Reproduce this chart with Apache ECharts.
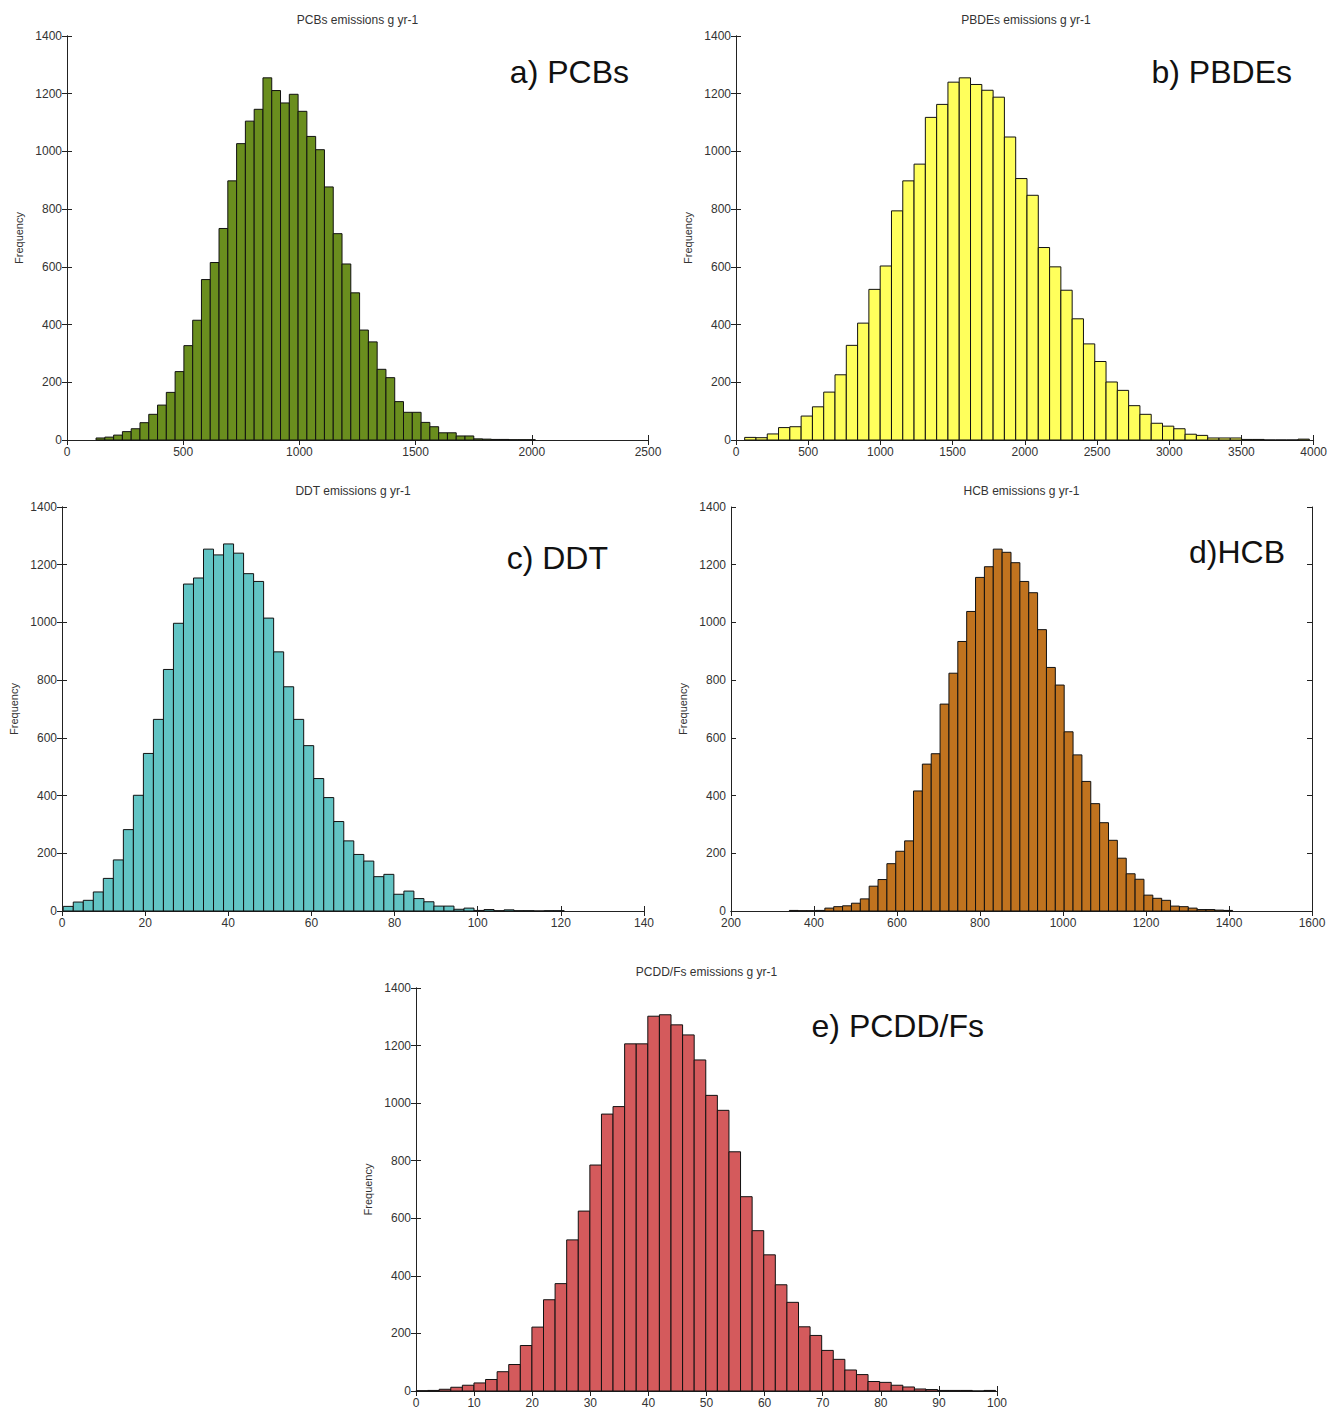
<!DOCTYPE html>
<html>
<head>
<meta charset="utf-8">
<title>Emission histograms</title>
<script src="https://cdn.jsdelivr.net/npm/echarts@6/dist/echarts.min.js"></script>
<style>
  html, body { margin: 0; padding: 0; background: #fff; }
  #chart { width: 1330px; height: 1409px; }
</style>
</head>
<body>
<div id="chart"></div>
<script>
// counts per bin, 50 bins each
const pcbsCounts = [7, 10, 17, 29, 39, 60, 89, 121, 165, 237, 327, 415, 556, 615, 733, 898, 1027, 1105, 1146, 1255,
  1211, 1168, 1198, 1139, 1052, 1006, 877, 715, 610, 510, 381, 340, 245, 216, 133, 96, 96, 61, 46, 25,
  25, 14, 14, 4, 3, 2, 2, 1, 1, 1];
const pbdesCounts = [9, 8, 21, 43, 46, 83, 115, 166, 226, 328, 405, 522, 603, 794, 898, 956, 1118, 1163, 1240, 1255,
  1232, 1212, 1188, 1050, 906, 848, 667, 600, 519, 420, 333, 272, 201, 172, 119, 89, 58, 48, 39, 20,
  16, 7, 7, 7, 2, 2, 0, 0, 0, 3];
const ddtCounts = [16, 31, 37, 66, 113, 177, 282, 401, 546, 664, 837, 997, 1133, 1154, 1254, 1234, 1272, 1240, 1169, 1142,
  1015, 898, 777, 664, 573, 459, 393, 310, 243, 196, 173, 119, 127, 58, 69, 43, 32, 17, 17, 6,
  10, 2, 5, 1, 4, 1, 1, 0, 1, 1];
const hcbCounts = [2, 1, 1, 2, 10, 15, 18, 27, 42, 86, 109, 164, 207, 243, 416, 509, 545, 717, 824, 934,
  1038, 1156, 1193, 1254, 1243, 1207, 1142, 1103, 975, 844, 783, 621, 541, 449, 372, 306, 245, 183, 129, 110,
  55, 44, 37, 17, 15, 10, 5, 5, 3, 2];
const pcddCounts = [1, 2, 6, 13, 20, 28, 40, 67, 92, 158, 222, 317, 373, 525, 625, 785, 962, 988, 1206, 1206,
  1302, 1307, 1272, 1237, 1150, 1027, 975, 831, 675, 557, 473, 369, 308, 223, 193, 141, 110, 73, 57, 33,
  30, 20, 14, 7, 5, 2, 2, 2, 0, 2];

// first bin edge and bin width (emission units)
const pcbsBins = { start: 125, width: 37.8 };
const pbdesBins = { start: 60, width: 78.2 };
const ddtBins = { start: 0.3, width: 2.41 };
const hcbBins = { start: 340.7, width: 21.36 };
const pcddBins = { start: 0, width: 1.995 };

const titles = ['PCBs emissions g yr-1', 'PBDEs emissions g yr-1', 'DDT emissions g yr-1', 'HCB emissions g yr-1', 'PCDD/Fs emissions g yr-1'];
const tags = ['a) PCBs', 'b) PBDEs', 'c) DDT', 'd)HCB', 'e) PCDD/Fs'];
const xRanges = [[0, 2500, 500], [0, 4000, 500], [0, 140, 20], [200, 1600, 200], [0, 100, 10]];
const yRange = [0, 1400, 200];

const panels = [
  { counts: pcbsCounts, bins: pcbsBins, color: '#6a8e1e', rect: [67, 36, 581, 404], tagPos: [629, 72] },
  { counts: pbdesCounts, bins: pbdesBins, color: '#ffff5c', rect: [736, 36, 580, 404], tagPos: [1292, 72] },
  { counts: ddtCounts, bins: ddtBins, color: '#62c4c4', rect: [62, 507, 582, 404], tagPos: [608, 558] },
  { counts: hcbCounts, bins: hcbBins, color: '#c0731f', rect: [731, 507, 581, 404], tagPos: [1285, 552] },
  { counts: pcddCounts, bins: pcddBins, color: '#d45a5c', rect: [416, 988, 581, 404], tagPos: [984, 1026] },
];

const FONT = 'Liberation Sans, Arial, sans-serif';
const chart = echarts.init(document.getElementById('chart'), null, { renderer: 'svg' });

function histItem(params, api) {
  const topLeft = api.coord([api.value(0), api.value(2)]);
  const bottomRight = api.coord([api.value(1), 0]);
  return {
    type: 'rect',
    shape: {
      x: topLeft[0],
      y: topLeft[1],
      width: bottomRight[0] - topLeft[0],
      height: bottomRight[1] - topLeft[1],
    },
    style: { fill: api.visual('color'), stroke: '#111', lineWidth: 1 },
  };
}

// MATLAB style: ticks point into the box, plain numbers without separators
const tick = { show: true, inside: true, length: 5, lineStyle: { color: '#222', width: 1 } };
const line = { show: true, lineStyle: { color: '#222', width: 1 } };
const plain = (v) => String(v);
const yLabel = { fontFamily: FONT, fontSize: 12, color: '#333', margin: 5, formatter: plain };
const xLabel = { fontFamily: FONT, fontSize: 12, color: '#333', margin: 6, formatter: plain };

const grid = [];
const xAxis = [];
const yAxis = [];
const series = [];
const graphic = [];

panels.forEach((p, i) => {
  const [left, top, width, height] = p.rect;
  grid.push({ left, top, width, height, containLabel: false });
  const [xmin, xmax, xstep] = xRanges[i];
  xAxis.push({
    type: 'value', gridIndex: i, position: 'bottom', min: xmin, max: xmax, interval: xstep,
    axisLine: line, axisTick: tick, splitLine: { show: false }, axisLabel: xLabel,
  });
  xAxis.push({
    type: 'value', gridIndex: i, position: 'top', min: xmin, max: xmax, interval: xstep,
    axisLine: line, axisTick: tick, splitLine: { show: false }, axisLabel: { show: false },
  });
  yAxis.push({
    type: 'value', gridIndex: i, position: 'left', min: yRange[0], max: yRange[1], interval: yRange[2],
    axisLine: line, axisTick: tick, splitLine: { show: false }, axisLabel: yLabel,
    name: 'Frequency', nameLocation: 'middle', nameRotate: 90, nameGap: 43,
    nameTextStyle: { fontFamily: FONT, fontSize: 11, color: '#333' },
  });
  yAxis.push({
    type: 'value', gridIndex: i, position: 'right', min: yRange[0], max: yRange[1], interval: yRange[2],
    axisLine: line, axisTick: tick, splitLine: { show: false }, axisLabel: { show: false },
  });
  series.push({
    type: 'custom',
    xAxisIndex: i * 2,
    yAxisIndex: i * 2,
    renderItem: histItem,
    itemStyle: { color: p.color },
    encode: { x: [0, 1], y: 2 },
    data: p.counts.map((c, k) => [p.bins.start + k * p.bins.width, p.bins.start + (k + 1) * p.bins.width, c]),
    silent: true,
  });
  graphic.push({
    type: 'text', x: left + width / 2, y: top - 16,
    style: { text: titles[i], font: '12px ' + FONT, fill: '#333', align: 'center', verticalAlign: 'middle' },
  });
  graphic.push({
    type: 'text', x: p.tagPos[0], y: p.tagPos[1],
    style: { text: tags[i], font: '32px ' + FONT, fill: '#111', align: 'right', verticalAlign: 'middle' },
  });
});

chart.setOption({
  backgroundColor: '#fff',
  animation: false,
  grid,
  xAxis,
  yAxis,
  series,
  graphic,
});
</script>
</body>
</html>
